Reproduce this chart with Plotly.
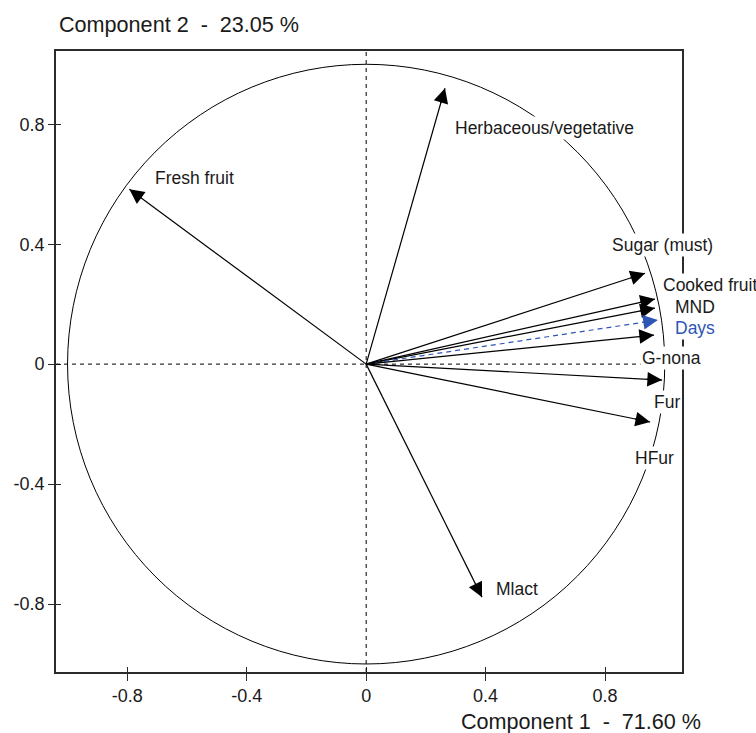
import math
import plotly.graph_objects as go

# ---- data ----
variables = ["Fresh fruit", "Herbaceous/vegetative", "Mlact", "Sugar (must)",
             "Cooked fruit", "MND", "Days", "G-nona", "Fur", "HFur"]
comp1 = [-0.793, 0.264, 0.388, 0.934, 0.967, 0.967, 0.977, 0.964, 0.991, 0.951]
comp2 = [0.583, 0.920, -0.777, 0.303, 0.217, 0.187, 0.147, 0.097, -0.053, -0.193]
supplementary = ["Days"]
tick_vals = [-0.8, -0.4, 0, 0.4, 0.8]
tick_text = ["-0.8", "-0.4", "0", "0.4", "0.8"]
x_title = "Component 1 \u00a0-\u00a0 71.60 %"
y_title = "Component 2 \u00a0-\u00a0 23.05 %"

# ---- label placement (pixel offsets from arrow tip) ----
label_offsets = {
    "Fresh fruit": ("left", 24, 11),
    "Herbaceous/vegetative": ("left", 8, -40),
    "Mlact": ("left", 12, 8),
    "Sugar (must)": ("center", 17, 28),
    "Cooked fruit": ("left", 6, 14),
    "MND": ("left", 18, 1),
    "Days": ("left", 15, -8),
    "G-nona": ("left", -14, -23),
    "Fur": ("left", -10, -22),
    "HFur": ("left", -17, -36),
}

FONT = "Arial, 'Liberation Sans', sans-serif"
TXT = "#1a1a1a"
BLUE = "#2f55b5"
AXC = "#2b2b2b"

fig = go.Figure()

# arrow shafts
for name, cx, cy in zip(variables, comp1, comp2):
    supp = name in supplementary
    fig.add_trace(go.Scatter(
        x=[0, cx], y=[0, cy], mode="lines",
        line=dict(color=BLUE if supp else "black", width=1.2,
                  dash="5px,4px" if supp else "solid"),
        hoverinfo="skip", showlegend=False))

# invisible trace on the overlay axes (for inner tick marks)
fig.add_trace(go.Scatter(x=[0], y=[0], xaxis="x2", yaxis="y2", mode="markers",
                         marker=dict(opacity=0), hoverinfo="skip", showlegend=False))

annotations = []
# labels
for name, cx, cy in zip(variables, comp1, comp2):
    anchor, dx, dy = label_offsets[name]
    supp = name in supplementary
    annotations.append(dict(
        x=cx, y=cy, xref="x", yref="y", text=name, showarrow=False,
        xanchor=anchor, yanchor="middle", xshift=dx, yshift=dy,
        font=dict(family=FONT, size=17.5, color=BLUE if supp else TXT),
        bgcolor="white", borderpad=1))
# arrow heads
for name, cx, cy in zip(variables, comp1, comp2):
    supp = name in supplementary
    r = math.hypot(cx, cy)
    ux, uy = cx / r, cy / r
    annotations.append(dict(
        x=cx, y=cy, xref="x", yref="y", text="", showarrow=True,
        ax=-ux * 17, ay=uy * 17, axref="pixel", ayref="pixel",
        arrowhead=2, arrowsize=2.45, arrowwidth=1.2, standoff=0,
        arrowcolor=BLUE if supp else "black"))
# axis titles
annotations.append(dict(x=0.0016, y=1.0419, xref="paper", yref="paper", text=y_title,
                        showarrow=False, xanchor="left", yanchor="middle",
                        font=dict(family=FONT, size=21.6, color=TXT)))
annotations.append(dict(x=1.0335, y=-0.0805, xref="paper", yref="paper", text=x_title,
                        showarrow=False, xanchor="right", yanchor="middle",
                        font=dict(family=FONT, size=21.6, color=TXT)))

shapes = [
    dict(type="circle", xref="x", yref="y", x0=-1, x1=1, y0=-1, y1=1,
         line=dict(color="black", width=1), layer="above"),
    dict(type="line", xref="x", yref="paper", x0=0, x1=0, y0=0, y1=1,
         line=dict(color="black", width=1, dash="4px,4px"), layer="above"),
    dict(type="line", xref="paper", yref="y", x0=0, x1=1, y0=0, y1=0,
         line=dict(color="black", width=1, dash="4px,4px"), layer="above"),
]

xr = [-1.0387, 1.0577]
yr = [-1.0267, 1.0443]
common = dict(showgrid=False, zeroline=False, showline=True, linecolor=AXC,
              linewidth=1.6, tickmode="array", tickvals=tick_vals, ticktext=tick_text,
              tickcolor=AXC, tickwidth=1.4,
              tickfont=dict(family=FONT, size=18, color=TXT))

fig.update_layout(
    width=756, height=733,
    margin=dict(l=56, r=74, t=51, b=61),
    paper_bgcolor="white", plot_bgcolor="white",
    xaxis=dict(range=xr, ticks="outside", ticklen=7, mirror=True, **common),
    yaxis=dict(range=yr, ticks="outside", ticklen=6, mirror=True, **common),
    xaxis2=dict(range=xr, overlaying="x", anchor="y2", side="bottom", showgrid=False,
                zeroline=False, showline=False, ticks="inside", ticklen=5,
                tickcolor=AXC, tickwidth=1.4, tickmode="array", tickvals=tick_vals,
                showticklabels=False),
    yaxis2=dict(range=yr, overlaying="y", anchor="x2", side="left", showgrid=False,
                zeroline=False, showline=False, ticks="inside", ticklen=5,
                tickcolor=AXC, tickwidth=1.4, tickmode="array", tickvals=tick_vals,
                showticklabels=False),
    annotations=annotations, shapes=shapes, showlegend=False,
)

fig.write_html("out.html",
               config={"displayModeBar": False},
               post_script="document.body.style.margin='0';"
                           "document.body.style.overflow='hidden';")
